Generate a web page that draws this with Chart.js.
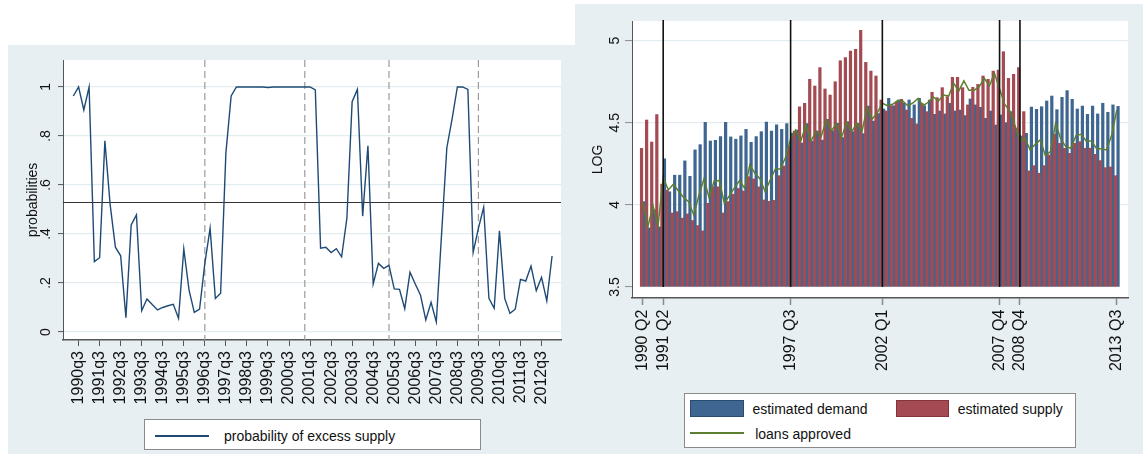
<!DOCTYPE html>
<html lang="en">
<head>
<meta charset="utf-8">
<title>Probability of excess supply; estimated loan demand and supply</title>
<script src="https://cdn.jsdelivr.net/npm/chart.js@4.4.1/dist/chart.umd.min.js"></script>
<style>
  html, body { margin: 0; padding: 0; background: #ffffff; }
  body { position: relative; width: 1143px; height: 454px; overflow: hidden;
         font-family: "Liberation Sans", Arial, sans-serif; }
  .panel { position: absolute; background: #e8eff2; }
  #probPanel { left: 8px; top: 45px; width: 567px; height: 409px; }
  #logPanel { left: 575px; top: 4px; width: 568px; height: 450px; }
  .panel canvas { position: absolute; left: 0; top: 0; }
  .legend { position: absolute; box-sizing: border-box; background: #ffffff; border: 1px solid #8a8a8a; }
  .key { position: absolute; box-sizing: border-box; }
  .key-text { position: absolute; font-size: 14px; line-height: 16px; color: #111; white-space: nowrap; }
</style>
</head>
<body>
<div class="panel" id="probPanel">
  <canvas id="probChart" width="567" height="409"></canvas>
  <div class="legend" id="probLegend" style="left:136px;top:374px;width:337px;height:31px;"></div>
</div>
<div class="panel" id="logPanel">
  <canvas id="logChart" width="568" height="450"></canvas>
  <div class="legend" id="logLegend" style="left:109px;top:389px;width:392px;height:55px;"></div>
</div>
<script>
// ---- Probability of excess supply, quarterly from 1990q2 ----
const probStart = '1990q2';
const probValues = [
  0.963, 1.000, 0.906, 1.000, 0.287, 0.303, 0.780, 0.520, 0.346, 0.311,
  0.058, 0.437, 0.478, 0.087, 0.135, 0.112, 0.090, 0.100, 0.107, 0.113,
  0.056, 0.339, 0.171, 0.080, 0.093, 0.280, 0.423, 0.137, 0.158, 0.730,
  0.963, 1.000, 1.000, 1.000, 1.000, 1.000, 1.000, 0.998, 1.000, 1.000,
  1.000, 1.000, 1.000, 1.000, 1.000, 1.000, 0.988, 0.342, 0.346, 0.324,
  0.340, 0.307, 0.464, 0.940, 0.990, 0.473, 0.760, 0.196, 0.280, 0.260,
  0.272, 0.176, 0.174, 0.095, 0.244, 0.196, 0.150, 0.049, 0.121, 0.041,
  0.400, 0.752, 0.870, 1.000, 1.000, 0.990, 0.325, 0.423, 0.509, 0.137,
  0.097, 0.413, 0.137, 0.076, 0.093, 0.215, 0.208, 0.269, 0.169, 0.223,
  0.127, 0.310
];
const probTickLabels = [
  '1990q3', '1991q3', '1992q3', '1993q3', '1994q3', '1995q3', '1996q3', '1997q3',
  '1998q3', '1999q3', '2000q3', '2001q3', '2002q3', '2003q3', '2004q3', '2005q3',
  '2006q3', '2007q3', '2008q3', '2009q3', '2010q3', '2011q3', '2012q3'
];
const probYTicks = [0, 0.2, 0.4, 0.6, 0.8, 1];
const probThreshold = 0.53;
const probRegimeBreaks = ['1996q3', '2001q2', '2005q2', '2009q3'];

// ---- Log levels: estimated demand, estimated supply, loans approved, from 1990 Q2 ----
const logStart = '1990 Q2';
const estimatedDemand = [
  4.020, 3.860, 3.970, 3.866, 4.280, 4.080, 4.181, 4.181, 4.268, 4.174,
  4.335, 4.367, 4.503, 4.389, 4.394, 4.416, 4.503, 4.414, 4.400, 4.420,
  4.460, 4.381, 4.416, 4.446, 4.505, 4.450, 4.487, 4.460, 4.495, 4.437,
  4.456, 4.377, 4.495, 4.389, 4.450, 4.395, 4.521, 4.452, 4.497, 4.410,
  4.507, 4.446, 4.497, 4.434, 4.602, 4.511, 4.556, 4.584, 4.649, 4.604,
  4.639, 4.619, 4.639, 4.609, 4.649, 4.604, 4.639, 4.552, 4.572, 4.554,
  4.619, 4.572, 4.578, 4.544, 4.645, 4.609, 4.594, 4.527, 4.572, 4.487,
  4.548, 4.501, 4.568, 4.467, 4.420, 4.436, 4.596, 4.582, 4.598, 4.633,
  4.663, 4.580, 4.655, 4.696, 4.643, 4.584, 4.602, 4.552, 4.602, 4.554,
  4.619, 4.564, 4.609, 4.600
];
const estimatedSupply = [
  4.345, 4.517, 4.383, 4.550, 4.126, 4.090, 3.951, 3.959, 3.919, 3.945,
  3.905, 3.874, 3.842, 4.010, 4.110, 4.110, 3.951, 4.020, 4.065, 4.100,
  4.085, 4.172, 4.158, 4.110, 4.030, 4.022, 4.028, 4.178, 4.237, 4.360,
  4.450, 4.598, 4.619, 4.765, 4.724, 4.836, 4.706, 4.669, 4.750, 4.878,
  4.897, 4.937, 4.947, 5.063, 4.868, 4.815, 4.785, 4.639, 4.572, 4.604,
  4.625, 4.643, 4.578, 4.527, 4.493, 4.619, 4.568, 4.686, 4.653, 4.714,
  4.659, 4.777, 4.777, 4.714, 4.609, 4.716, 4.734, 4.785, 4.765, 4.815,
  4.821, 4.933, 4.771, 4.795, 4.836, 4.568, 4.207, 4.239, 4.193, 4.239,
  4.304, 4.430, 4.375, 4.345, 4.314, 4.375, 4.385, 4.345, 4.345, 4.308,
  4.270, 4.227, 4.231, 4.178
];
const loansApproved = [
  4.016, 3.868, 3.996, 3.874, 4.168, 4.091, 4.126, 4.085, 4.045, 4.020,
  3.939, 4.057, 4.158, 4.045, 4.146, 4.148, 4.010, 4.057, 4.105, 4.148,
  4.101, 4.243, 4.193, 4.158, 4.081, 4.152, 4.219, 4.219, 4.288, 4.402,
  4.456, 4.389, 4.487, 4.389, 4.450, 4.416, 4.517, 4.450, 4.497, 4.412,
  4.503, 4.446, 4.497, 4.446, 4.592, 4.523, 4.560, 4.619, 4.604, 4.613,
  4.635, 4.633, 4.604, 4.621, 4.649, 4.604, 4.625, 4.657, 4.633, 4.669,
  4.663, 4.740, 4.694, 4.755, 4.698, 4.698, 4.720, 4.771, 4.726, 4.801,
  4.706, 4.613, 4.572, 4.487, 4.389, 4.406, 4.335, 4.369, 4.396, 4.300,
  4.325, 4.497, 4.402, 4.355, 4.345, 4.422, 4.430, 4.389, 4.389, 4.345,
  4.341, 4.335, 4.426, 4.578
];
const logTickLabels = ['1990 Q2', '1991 Q2', '1997 Q3', '2002 Q1', '2007 Q4', '2008 Q4', '2013 Q3'];
const logYTicks = [3.5, 4, 4.5, 5];
const logBreaks = ['1991 Q2', '1997 Q3', '2002 Q1', '2007 Q4', '2008 Q4'];
const logBarBase = 3.5;

// ---- helpers ----
function quarterNumber(label) {
  const m = /(\d{4})\s*[qQ]\s*(\d)/.exec(label);
  return Number(m[1]) * 4 + Number(m[2]) - 1;
}
const offsetFrom = start => { const s = quarterNumber(start); return label => quarterNumber(label) - s; };
const probPos = offsetFrom(probStart);
const logPos = offsetFrom(logStart);
const asPoints = values => values.map((y, x) => ({ x, y }));
const formatProb = v => (v === 0 ? '0' : v === 1 ? '1' : String(v).replace(/^0\./, '.'));
const formatLog = v => String(v);

const FONT_FAMILY = '"Liberation Sans", Arial, sans-serif';
Chart.defaults.font.family = FONT_FAMILY;
Chart.defaults.color = '#111';

const NAVY = '#1f4a76';
const BLUE = '#3f6690';
const MAROON = '#a34a53';
const GREEN = '#5b7f2e';
const GRID = '#e3ecef';
const AXIS = '#555555';

// white plot region on the tinted panel
const plotBackground = {
  id: 'plotBackground',
  beforeDraw(chart) {
    const { ctx, chartArea: a } = chart;
    ctx.save();
    ctx.fillStyle = '#ffffff';
    ctx.fillRect(a.left, a.top, a.right - a.left, a.bottom - a.top);
    ctx.restore();
  }
};

// y tick labels turned to read upward, centred on each tick
const uprightYTicks = {
  id: 'uprightYTicks',
  afterDraw(chart, args, opts) {
    const { ctx, scales: { y } } = chart;
    ctx.save();
    ctx.font = '14px ' + FONT_FAMILY;
    ctx.fillStyle = '#111';
    ctx.textAlign = 'center';
    ctx.textBaseline = 'middle';
    y.ticks.forEach(t => {
      ctx.save();
      ctx.translate(y.right - opts.gap, y.getPixelForValue(t.value));
      ctx.rotate(-Math.PI / 2);
      ctx.fillText(opts.format(t.value), 0, 0);
      ctx.restore();
    });
    ctx.restore();
  }
};

// dashed regime breaks and the horizontal threshold
const probReferenceLines = {
  id: 'probReferenceLines',
  beforeDatasetsDraw(chart) {
    const { ctx, chartArea: a, scales: { x, y } } = chart;
    ctx.save();
    ctx.strokeStyle = '#9b9b9b';
    ctx.lineWidth = 1.2;
    ctx.setLineDash([7, 4]);
    probRegimeBreaks.forEach(label => {
      const px = x.getPixelForValue(probPos(label));
      ctx.beginPath(); ctx.moveTo(px, a.top); ctx.lineTo(px, a.bottom); ctx.stroke();
    });
    ctx.setLineDash([]);
    ctx.strokeStyle = '#333333';
    ctx.lineWidth = 1;
    const py = Math.round(y.getPixelForValue(probThreshold)) + 0.5;
    ctx.beginPath(); ctx.moveTo(a.left, py); ctx.lineTo(a.right, py); ctx.stroke();
    ctx.restore();
  }
};

// solid vertical markers at the break quarters
const logBreakLines = {
  id: 'logBreakLines',
  afterDatasetsDraw(chart) {
    const { ctx, chartArea: a, scales: { x, y } } = chart;
    const base = y.getPixelForValue(logBarBase);
    ctx.save();
    ctx.strokeStyle = '#111111';
    ctx.lineWidth = 1.6;
    logBreaks.forEach(label => {
      const px = x.getPixelForValue(logPos(label));
      ctx.beginPath(); ctx.moveTo(px, base); ctx.lineTo(px, a.top - 1); ctx.stroke();
    });
    ctx.restore();
  }
};

const probChart = new Chart(document.getElementById('probChart'), {
  type: 'line',
  data: {
    datasets: [{
      label: 'probability of excess supply',
      data: asPoints(probValues),
      borderColor: NAVY,
      borderWidth: 1.4,
      pointRadius: 0,
      tension: 0,
      fill: false
    }]
  },
  options: {
    responsive: false, animation: false, devicePixelRatio: 1, events: [],
    layout: { padding: { left: 0, top: 15, right: 14, bottom: 0 } },
    plugins: {
      legend: { display: false }, tooltip: { enabled: false },
      uprightYTicks: { gap: 16.5, format: formatProb }
    },
    scales: {
      x: {
        type: 'linear', min: -1.96, max: 92.7, offset: false,
        afterBuildTicks: s => { s.ticks = probTickLabels.map(l => ({ value: probPos(l) })); },
        afterFit: s => { s.height = 114; },
        ticks: {
          autoSkip: false, minRotation: 90, maxRotation: 90, padding: 5,
          font: { size: 16 }, color: '#111',
          callback: v => probTickLabels.find(l => probPos(l) === v) || ''
        },
        grid: { drawOnChartArea: false, offset: false, tickLength: 6, tickColor: AXIS, tickWidth: 1 },
        border: { color: AXIS, width: 1.5 }
      },
      y: {
        type: 'linear', min: -0.0327, max: 1.110, beginAtZero: false,
        afterBuildTicks: s => { s.ticks = probYTicks.map(v => ({ value: v })); },
        afterFit: s => { s.width = 55; },
        ticks: { display: false, autoSkip: false },
        grid: { color: GRID, lineWidth: 1.2, tickLength: 5, tickColor: AXIS, tickWidth: 1 },
        border: { color: AXIS, width: 1 },
        title: { display: true, text: 'probabilities', font: { size: 14 }, color: '#111', padding: { top: 17, bottom: 0 } }
      }
    }
  },
  plugins: [plotBackground, probReferenceLines, uprightYTicks]
});

const logChart = new Chart(document.getElementById('logChart'), {
  type: 'bar',
  data: {
    datasets: [
      {
        type: 'bar', label: 'estimated supply', data: asPoints(estimatedSupply),
        backgroundColor: MAROON, borderColor: '#86343c', borderWidth: 0,
        base: logBarBase, categoryPercentage: 1, barPercentage: 1, order: 2
      },
      {
        type: 'bar', label: 'estimated demand', data: asPoints(estimatedDemand),
        backgroundColor: BLUE, borderColor: '#2a4b70', borderWidth: 0,
        base: logBarBase, categoryPercentage: 1, barPercentage: 1, order: 2
      },
      {
        type: 'line', label: 'loans approved', data: asPoints(loansApproved),
        borderColor: GREEN, borderWidth: 1.5, pointRadius: 0, tension: 0, fill: false, order: 1
      }
    ]
  },
  options: {
    responsive: false, animation: false, devicePixelRatio: 1, events: [],
    layout: { padding: { left: 0, top: 17, right: 15, bottom: 0 } },
    plugins: {
      legend: { display: false }, tooltip: { enabled: false },
      uprightYTicks: { gap: 17.3, format: formatLog }
    },
    scales: {
      x: {
        type: 'linear', min: -2.12, max: 95.2, offset: false,
        afterBuildTicks: s => { s.ticks = logTickLabels.map(l => ({ value: logPos(l) })); },
        afterFit: s => { s.height = 156; },
        ticks: {
          autoSkip: false, minRotation: 90, maxRotation: 90, padding: 4.7,
          font: { size: 16 }, color: '#111',
          callback: v => logTickLabels.find(l => logPos(l) === v) || ''
        },
        grid: { drawOnChartArea: false, offset: false, tickLength: 7, tickColor: '#8a8a8a', tickWidth: 1.5 },
        border: { color: AXIS, width: 1.5 }
      },
      y: {
        type: 'linear', min: 3.433, max: 5.12, beginAtZero: false,
        afterBuildTicks: s => { s.ticks = logYTicks.map(v => ({ value: v })); },
        afterFit: s => { s.width = 57; },
        ticks: { display: false, autoSkip: false },
        grid: {
          color: c => (c.tick && c.tick.value === logBarBase ? 'rgba(0,0,0,0)' : GRID),
          lineWidth: 1.2, tickLength: 7, tickColor: '#8a8a8a', tickWidth: 1
        },
        border: { color: AXIS, width: 1 },
        title: { display: true, text: 'LOG', font: { size: 14 }, color: '#111', padding: { top: 15, bottom: 0 } }
      }
    }
  },
  plugins: [plotBackground, logBreakLines, uprightYTicks]
});

// legends in the boxed layout below each plot, built from the chart datasets
function buildLegend(container, chart, entries) {
  entries.forEach(e => {
    const ds = chart.data.datasets.find(d => d.label === e.label);
    const key = document.createElement('div');
    key.className = 'key';
    key.style.left = e.x + 'px';
    key.style.width = e.w + 'px';
    if (e.kind === 'box') {
      key.style.top = e.y + 'px';
      key.style.height = e.h + 'px';
      key.style.background = ds.backgroundColor;
      key.style.border = '1px solid ' + ds.borderColor;
    } else {
      key.style.top = (e.y - 1) + 'px';
      key.style.height = '0px';
      key.style.borderTop = '2px solid ' + ds.borderColor;
    }
    container.appendChild(key);
    const text = document.createElement('div');
    text.className = 'key-text';
    text.style.left = e.textX + 'px';
    text.style.top = e.textY + 'px';
    text.textContent = ds.label;
    container.appendChild(text);
  });
}

buildLegend(document.getElementById('probLegend'), probChart, [
  { label: 'probability of excess supply', kind: 'line', x: 10, y: 15.5, w: 54, textX: 79, textY: 7.5 }
]);
buildLegend(document.getElementById('logLegend'), logChart, [
  { label: 'estimated demand', kind: 'box', x: 4.5, y: 6.2, w: 54, h: 16.6, textX: 67.4, textY: 6.5 },
  { label: 'estimated supply', kind: 'box', x: 211, y: 6.2, w: 53, h: 16.6, textX: 272.7, textY: 6.5 },
  { label: 'loans approved', kind: 'line', x: 4.5, y: 38.5, w: 54, textX: 70.2, textY: 31.6 }
]);
</script>
</body>
</html>
